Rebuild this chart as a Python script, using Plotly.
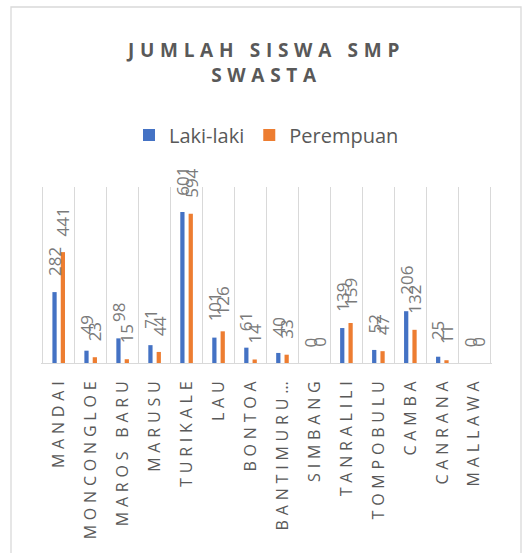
import plotly.graph_objects as go

# ---- data ----
categories = ["MANDAI", "MONCONGLOE", "MAROS BARU", "MARUSU", "TURIKALE", "LAU",
              "BONTOA", "BANTIMURUNG", "SIMBANG", "TANRALILI", "TOMPOBULU",
              "CAMBA", "CANRANA", "MALLAWA"]
tick_labels = ["MANDAI", "MONCONGLOE", "MAROS BARU", "MARUSU", "TURIKALE", "LAU",
               "BONTOA", "BANTIMURU…", "SIMBANG", "TANRALILI", "TOMPOBULU",
               "CAMBA", "CANRANA", "MALLAWA"]
laki_laki = [282, 49, 98, 71, 601, 101, 61, 40, 0, 139, 52, 206, 25, 0]
perempuan = [441, 23, 15, 44, 594, 126, 14, 33, 0, 159, 47, 132, 11, 0]
series_names = ["Laki-laki", "Perempuan"]
title_text = "JUMLAH SISWA SMP<br>SWASTA"

BLUE = "#4472C4"
ORANGE = "#ED7D31"
TXT = "#595959"
LBL = "#7a7a7a"
GRID = "#d9d9d9"
FONT = "Open Sans"
LBL_SIZE = 17

fig = go.Figure()
fig.add_trace(go.Bar(x=categories, y=laki_laki, name=series_names[0],
                     marker=dict(color=BLUE, line=dict(width=0))))
fig.add_trace(go.Bar(x=categories, y=perempuan, name=series_names[1],
                     marker=dict(color=ORANGE, line=dict(width=0))))

annotations = []
for vals, dx in ((laki_laki, -4.2), (perempuan, 4.2)):
    for c, v in zip(categories, vals):
        t = str(v)
        half_len = len(t) * 0.572 * LBL_SIZE / 2
        annotations.append(dict(
            x=c, y=v, xref="x", yref="y", text=t, showarrow=False,
            textangle=-90, xanchor="center", yanchor="middle",
            xshift=dx, yshift=16 + half_len,
            font=dict(family=FONT, size=LBL_SIZE, color=LBL)))

fig.update_layout(
    width=528, height=553,
    margin=dict(l=41, r=36, t=187, b=190, autoexpand=False),
    paper_bgcolor="white", plot_bgcolor="white",
    barmode="group", bargap=0.478, bargroupgap=0.49,
    font=dict(family=FONT, color=TXT),
    title=dict(text=title_text, x=0.5, xref="paper", xanchor="center",
               y=1 - 57 / 553, yref="container", yanchor="top",
               font=dict(family=FONT, size=19, color=TXT, weight="bold")),
    legend=dict(orientation="h", x=0.5, xanchor="center",
                y=1 - 135 / 553, yref="container", yanchor="middle",
                font=dict(family=FONT, size=20, color=TXT),
                itemwidth=30, traceorder="normal"),
    xaxis=dict(type="category", tickmode="array", tickvals=categories,
               ticktext=tick_labels, tickangle=-90, tickson="boundaries",
               showgrid=True, gridcolor=GRID, gridwidth=1.3,
               showline=True, linecolor=GRID, linewidth=1.3,
               ticks="", ticklabelstandoff=6,
               tickfont=dict(family=FONT, size=16, color=TXT),
               automargin=False, fixedrange=True),
    yaxis=dict(range=[0, 700], visible=False, showgrid=False, fixedrange=True),
    annotations=annotations,
    shapes=[dict(type="rect", xref="paper", yref="paper",
                 x0=(11 - 41) / 451, x1=(521 - 41) / 451,
                 y0=(363 - 600) / 176, y1=(363 - 7) / 176,
                 line=dict(color=GRID, width=1.3), fillcolor="rgba(0,0,0,0)",
                 layer="above")],
)

post = """
document.body.style.margin = '0';
document.body.style.padding = '0';
var gd = document.getElementById('{plot_id}');
function sp(){
  gd.querySelectorAll('.gtitle').forEach(function(e){e.style.letterSpacing='5.7px';});
  gd.querySelectorAll('.xtick text').forEach(function(e){e.style.letterSpacing='4.8px';});
}
sp();
if (gd.on) { gd.on('plotly_afterplot', sp); }
"""

fig.write_html("out.html", post_script=post, config={"displayModeBar": False})
